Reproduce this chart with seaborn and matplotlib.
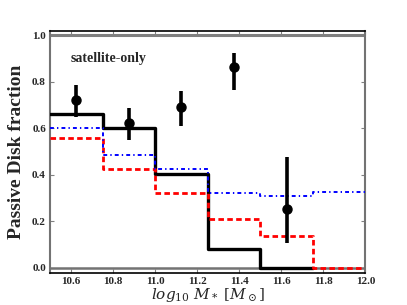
import numpy as np
import pandas as pd
import seaborn as sns
import matplotlib
matplotlib.use("Agg")
import matplotlib.pyplot as plt

# bin edges in log10 stellar mass
bin_edges = [10.5, 10.75, 11.0, 11.25, 11.5, 11.75, 12.0]

# model step curves (one value per bin)
black_vals = [0.66, 0.60, 0.405, 0.083, 0.0]
red_vals = [0.558, 0.424, 0.32, 0.21, 0.137, 0.0]
blue_vals = [0.601, 0.485, 0.424, 0.32, 0.31, 0.327]

# observed points with asymmetric errors
obs_mass = [10.625, 10.875, 11.125, 11.375, 11.625]
obs_frac = [0.722, 0.622, 0.689, 0.862, 0.251]
obs_err_lo = [0.074, 0.071, 0.081, 0.097, 0.143]
obs_err_hi = [0.062, 0.064, 0.069, 0.062, 0.226]

x_ticks = [10.6, 10.8, 11.0, 11.2, 11.4, 11.6, 11.8, 12.0]
y_ticks = [0.0, 0.2, 0.4, 0.6, 0.8, 1.0]


def step_frame(vals):
    # repeat the last value so the final bin gets drawn with steps-post
    edges = bin_edges[: len(vals) + 1]
    return pd.DataFrame({"mass": edges, "frac": list(vals) + [vals[-1]]})


sns.set_style("white")
plt.rcParams["font.family"] = ["Liberation Serif", "DejaVu Serif"]
plt.rcParams["mathtext.fontset"] = "dejavuserif"

fig, ax = plt.subplots(figsize=(4.07, 3.05), dpi=100)
fig.subplots_adjust(left=0.123, right=0.898, top=0.898, bottom=0.104)

ax.axhline(0.0, color="0.45", lw=1.8, zorder=1)
ax.axhline(1.0, color="0.5", lw=2.2, zorder=1)

sns.lineplot(data=step_frame(black_vals), x="mass", y="frac", color="black",
             lw=2.4, drawstyle="steps-post", ax=ax, zorder=3)
sns.lineplot(data=step_frame(red_vals), x="mass", y="frac", color="red",
             lw=2.0, drawstyle="steps-post", ax=ax, zorder=4, dashes=False,
             linestyle=(0, (2.0, 1.2)))
sns.lineplot(data=step_frame(blue_vals), x="mass", y="frac", color="blue",
             lw=1.4, drawstyle="steps-post", ax=ax, zorder=5, dashes=False,
             linestyle=(0, (2.0, 1.6, 0.7, 1.6)))

ax.errorbar(obs_mass, obs_frac, yerr=[obs_err_lo, obs_err_hi], fmt="o",
            color="black", ms=6.5, elinewidth=2.6, capsize=0, zorder=6)

ax.text(10.6, 0.9, "satellite-only", fontsize=10, fontweight="bold",
        ha="left", va="center")

ax.set_xlim(10.5, 12.0)
ax.set_ylim(-0.023, 1.017)
ax.set_xticks(x_ticks)
ax.set_xticklabels([f"{v:.1f}" for v in x_ticks])
ax.set_yticks(y_ticks)
ax.set_yticklabels([f"{v:.1f}" for v in y_ticks])
for lab in ax.get_xticklabels() + ax.get_yticklabels():
    lab.set_fontweight("bold")
    lab.set_fontsize(8)

ax.tick_params(direction="in", length=3, width=0.8, color="0.5",
               top=True, right=True, bottom=True, left=True, pad=3)

ax.set_xlabel(r"$log_{10}\ M_*\ [M_\odot]$", fontsize=11, labelpad=0)
ax.set_ylabel("Passive Disk fraction", fontsize=14, fontweight="bold",
              labelpad=5)

for side in ["top", "bottom"]:
    ax.spines[side].set_color("black")
    ax.spines[side].set_linewidth(1.2)
for side in ["left", "right"]:
    ax.spines[side].set_color("0.45")
    ax.spines[side].set_linewidth(1.5)

fig.savefig("out.png", dpi=100)
